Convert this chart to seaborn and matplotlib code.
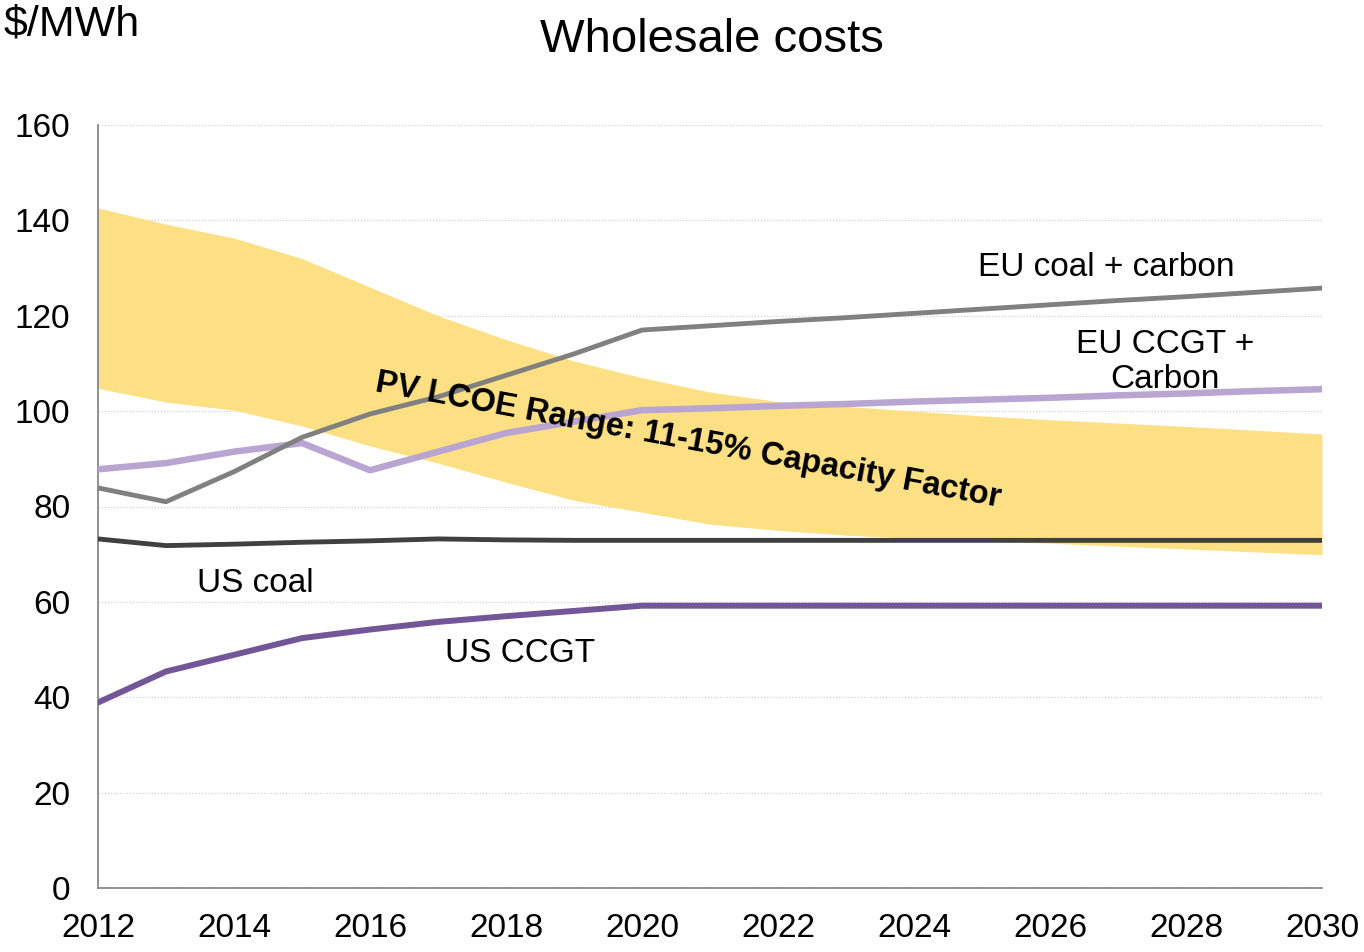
import matplotlib
matplotlib.use("Agg")
import matplotlib.pyplot as plt
import seaborn as sns
import pandas as pd

years = list(range(2012, 2031))

# PV LCOE band (upper / lower edge)
pv_high = [142.6, 139.2, 136.3, 132.0, 126.0, 120.0, 115.0, 110.5, 107.0, 104.0,
           102.0, 101.0, 100.0, 99.0, 98.2, 97.5, 96.8, 96.0, 95.2]
pv_low = [104.8, 101.9, 100.2, 96.9, 92.7, 89.1, 85.1, 81.3, 78.8, 76.3,
          75.0, 74.0, 73.3, 72.8, 72.3, 71.7, 71.1, 70.5, 69.9]

eu_coal = [83.9, 81.0, 87.3, 94.5, 99.4, 103.0, 107.5, 112.0, 117.0, 117.9,
           118.8, 119.6, 120.5, 121.4, 122.3, 123.2, 124.0, 124.9, 125.8]
eu_ccgt = [87.8, 89.1, 91.5, 93.3, 87.6, 91.5, 95.4, 97.8, 100.2, 100.6,
           101.1, 101.5, 102.0, 102.4, 102.8, 103.3, 103.7, 104.2, 104.6]
us_coal = [73.2, 71.8, 72.1, 72.5, 72.8, 73.2, 73.0, 72.9, 72.9, 72.9,
           72.9, 72.9, 72.9, 72.9, 72.9, 72.9, 72.9, 72.9, 72.9]
us_ccgt = [38.9, 45.4, 48.9, 52.4, 54.2, 55.8, 57.0, 58.1, 59.2, 59.2,
           59.2, 59.2, 59.2, 59.2, 59.2, 59.2, 59.2, 59.2, 59.2]

df = pd.DataFrame({"year": years, "eu_coal": eu_coal, "eu_ccgt": eu_ccgt,
                   "us_coal": us_coal, "us_ccgt": us_ccgt})

sns.set_style("white")
plt.rcParams["font.family"] = ["Liberation Sans", "DejaVu Sans"]
plt.rcParams["text.color"] = "black"

fig = plt.figure(figsize=(13.64, 9.52), dpi=100)
ax = fig.add_axes([98 / 1364, 1 - 888 / 952, (1322 - 98) / 1364, (888 - 125) / 952])

ax.fill_between(years, pv_low, pv_high, color="#FDDF84", linewidth=0, zorder=1)

sns.lineplot(data=df, x="year", y="us_coal", ax=ax, color="#404040", linewidth=3.5, zorder=3)
sns.lineplot(data=df, x="year", y="us_ccgt", ax=ax, color="#735697", linewidth=4.3, zorder=3)
sns.lineplot(data=df, x="year", y="eu_ccgt", ax=ax, color="#B9A5D1", linewidth=4.7, zorder=3)
sns.lineplot(data=df, x="year", y="eu_coal", ax=ax, color="#808080", linewidth=3.5, zorder=3)

ax.set_xlim(2012, 2030)
ax.set_ylim(0, 160)
ax.set_xticks(years)
ax.set_xticklabels([str(y) if y % 2 == 0 else "" for y in years])
ax.set_yticks(range(0, 161, 20))
ax.set_xlabel("")
ax.set_ylabel("")

ax.grid(axis="y", color="#D0D0D0", linestyle=(0, (1, 1.5)), linewidth=0.9)
ax.set_axisbelow(True)
for s in ["top", "right"]:
    ax.spines[s].set_visible(False)
for s in ["left", "bottom"]:
    ax.spines[s].set_color("#888888")
    ax.spines[s].set_linewidth(1.3)
ax.tick_params(axis="both", direction="out", length=7, width=1.3, color="#888888",
               labelsize=24, labelcolor="black")
ax.tick_params(axis="y", pad=13)
ax.tick_params(axis="x", pad=11)

ax.text(2026.82, 130.2, "EU coal + carbon", fontsize=24, ha="center", va="center")
ax.text(2027.69, 110.3, "EU CCGT +\nCarbon", fontsize=24, ha="center", va="center",
        linespacing=1.15, zorder=2)
ax.text(2014.32, 63.8, "US coal", fontsize=24, ha="center", va="center")
ax.text(2018.21, 49.2, "US CCGT", fontsize=24, ha="center", va="center")
ax.text(2020.68, 93.8, "PV LCOE Range: 11-15% Capacity Factor", fontsize=23.5,
        fontweight="bold", ha="center", va="center", rotation=-10.5,
        rotation_mode="anchor", zorder=5)

fig.text(712 / 1364, 1 - 40 / 952, "Wholesale costs", fontsize=34, ha="center", va="center")
fig.text(4 / 1364, 1 - 25 / 952, "$/MWh", fontsize=31, ha="left", va="center")

fig.savefig("out.png", dpi=100)
